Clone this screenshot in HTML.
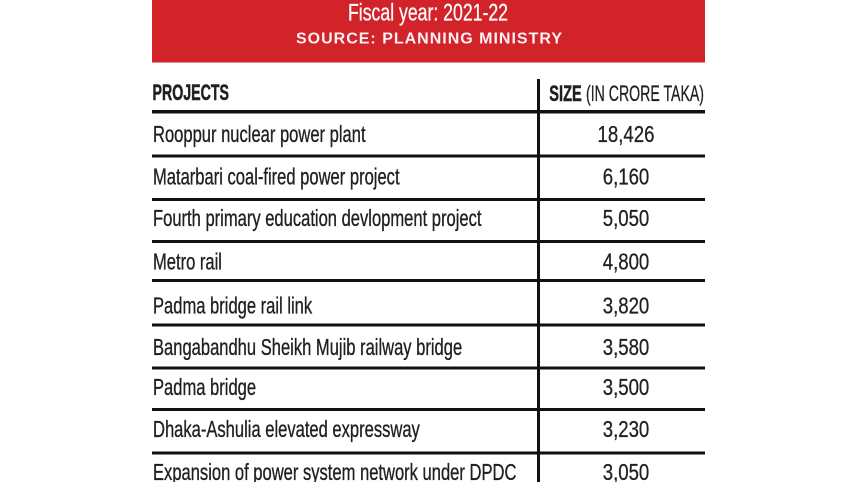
<!DOCTYPE html>
<html>
<head>
<meta charset="utf-8">
<style>
  html, body { margin:0; padding:0; background:#ffffff; }
  body { width:857px; height:482px; overflow:hidden; position:relative; }
  svg { display:block; }
  text { font-family: "Liberation Sans", "DejaVu Sans", sans-serif; }
  .row { font-size:23px; fill:#231f20; stroke:#231f20; stroke-width:0.35px; }
  .num { font-size:23px; fill:#231f20; stroke:#231f20; stroke-width:0.3px; }
  .hdr { fill:#231f20; stroke:#231f20; stroke-width:0.5px; }
</style>
</head>
<body>
<svg width="857" height="482" viewBox="0 0 857 482" xmlns="http://www.w3.org/2000/svg">
  <!-- red banner -->
  <rect x="152" y="0" width="553" height="62.5" fill="#d2232a"/>
  <text x="348" y="20.7" font-size="24" fill="#ffffff" stroke="#ffffff" stroke-width="0.25" textLength="160" lengthAdjust="spacingAndGlyphs">Fiscal year: 2021-22</text>
  <text x="296" y="43.5" font-size="16" font-weight="bold" fill="#fdf3f3" textLength="266" lengthAdjust="spacing">SOURCE: PLANNING MINISTRY</text>

  <!-- header -->
  <text class="hdr" x="152.5" y="100" font-size="22" font-weight="bold" textLength="76.5" lengthAdjust="spacingAndGlyphs">PROJECTS</text>
  <text class="hdr" x="549.3" y="101" font-size="22" font-weight="bold" textLength="32.4" lengthAdjust="spacingAndGlyphs">SIZE</text>
  <text x="586" y="101" font-size="22" fill="#231f20" stroke="#231f20" stroke-width="0.3" textLength="118" lengthAdjust="spacingAndGlyphs">(IN CRORE TAKA)</text>

  <!-- header line -->
  <rect x="152" y="110" width="553" height="3.5" fill="#111111"/>
  <!-- vertical divider -->
  <rect x="537" y="79" width="3" height="403" fill="#111111"/>

  <!-- row lines -->
  <rect x="152" y="154.5" width="553" height="3" fill="#111111"/>
  <rect x="152" y="198" width="553" height="3" fill="#111111"/>
  <rect x="152" y="240" width="553" height="3" fill="#111111"/>
  <rect x="152" y="279" width="553" height="3" fill="#111111"/>
  <rect x="152" y="323.5" width="553" height="3" fill="#111111"/>
  <rect x="152" y="366.5" width="553" height="3" fill="#111111"/>
  <rect x="152" y="408" width="553" height="3" fill="#111111"/>
  <rect x="152" y="451.5" width="553" height="3" fill="#111111"/>

  <!-- rows: project names -->
  <text class="row" transform="translate(153,142) scale(0.72,1)">Rooppur nuclear power plant</text>
  <text class="row" transform="translate(153,184.3) scale(0.72,1)">Matarbari coal-fired power project</text>
  <text class="row" transform="translate(153,226) scale(0.72,1)">Fourth primary education devlopment project</text>
  <text class="row" transform="translate(153,269.3) scale(0.72,1)">Metro rail</text>
  <text class="row" transform="translate(153,313.5) scale(0.72,1)">Padma bridge rail link</text>
  <text class="row" transform="translate(153,355) scale(0.72,1)">Bangabandhu Sheikh Mujib railway bridge</text>
  <text class="row" transform="translate(153,395) scale(0.72,1)">Padma bridge</text>
  <text class="row" transform="translate(153,437) scale(0.72,1)">Dhaka-Ashulia elevated expressway</text>
  <text class="row" transform="translate(153,480) scale(0.72,1)">Expansion of power system network under DPDC</text>

  <!-- rows: sizes -->
  <text class="num" text-anchor="middle" transform="translate(626,142) scale(0.81,1)">18,426</text>
  <text class="num" text-anchor="middle" transform="translate(626,184.3) scale(0.81,1)">6,160</text>
  <text class="num" text-anchor="middle" transform="translate(626,226) scale(0.81,1)">5,050</text>
  <text class="num" text-anchor="middle" transform="translate(626,269.3) scale(0.81,1)">4,800</text>
  <text class="num" text-anchor="middle" transform="translate(626,313.5) scale(0.81,1)">3,820</text>
  <text class="num" text-anchor="middle" transform="translate(626,355) scale(0.81,1)">3,580</text>
  <text class="num" text-anchor="middle" transform="translate(626,395) scale(0.81,1)">3,500</text>
  <text class="num" text-anchor="middle" transform="translate(626,437) scale(0.81,1)">3,230</text>
  <text class="num" text-anchor="middle" transform="translate(626,480) scale(0.81,1)">3,050</text>
</svg>
</body>
</html>
